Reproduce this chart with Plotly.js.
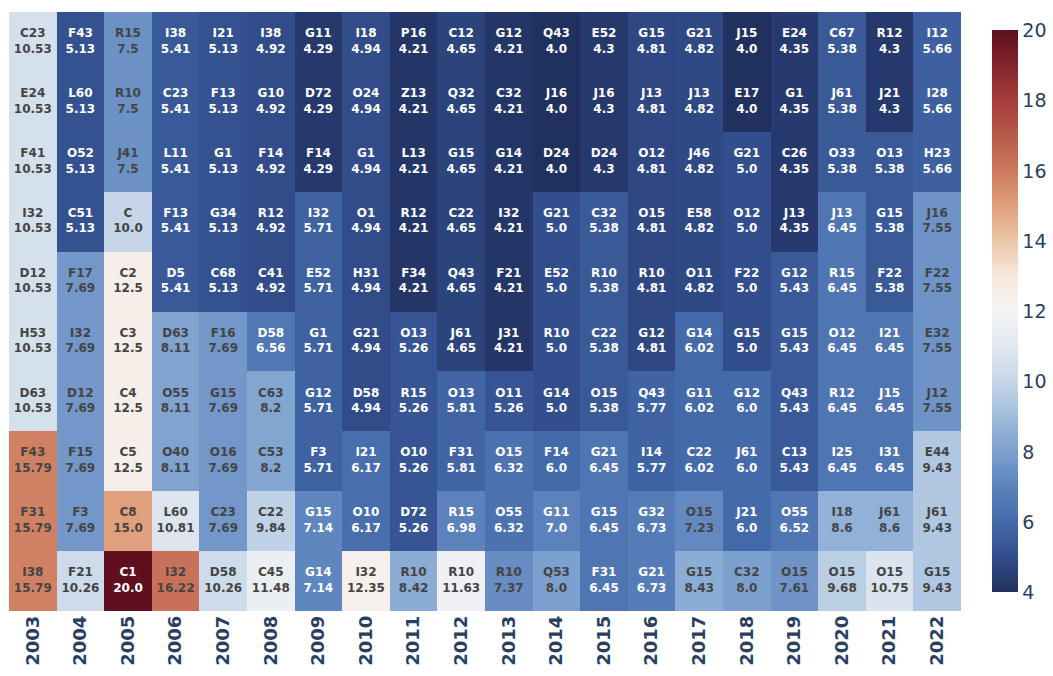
<!DOCTYPE html>
<html>
<head>
<meta charset="utf-8">
<script src="https://cdn.plot.ly/plotly-3.0.1.min.js"></script>
<style>html,body{margin:0;padding:0;background:#fff;}#chart{width:1053px;height:676px;}</style>
</head>
<body>
<div id="chart"></div>
<script>
// Years (columns)
const years = ["2003","2004","2005","2006","2007","2008","2009","2010","2011","2012",
               "2013","2014","2015","2016","2017","2018","2019","2020","2021","2022"];

// Codes per year, top row to bottom row
const codes = [
  ["C23","E24","F41","I32","D12","H53","D63","F43","F31","I38"],
  ["F43","L60","O52","C51","F17","I32","D12","F15","F3","F21"],
  ["R15","R10","J41","C","C2","C3","C4","C5","C8","C1"],
  ["I38","C23","L11","F13","D5","D63","O55","O40","L60","I32"],
  ["I21","F13","G1","G34","C68","F16","G15","O16","C23","D58"],
  ["I38","G10","F14","R12","C41","D58","C63","C53","C22","C45"],
  ["G11","D72","F14","I32","E52","G1","G12","F3","G15","G14"],
  ["I18","O24","G1","O1","H31","G21","D58","I21","O10","I32"],
  ["P16","Z13","L13","R12","F34","O13","R15","O10","D72","R10"],
  ["C12","Q32","G15","C22","Q43","J61","O13","F31","R15","R10"],
  ["G12","C32","G14","I32","F21","J31","O11","O15","O55","R10"],
  ["Q43","J16","D24","G21","E52","R10","G14","F14","G11","Q53"],
  ["E52","J16","D24","C32","R10","C22","O15","G21","G15","F31"],
  ["G15","J13","O12","O15","R10","G12","Q43","I14","G32","G21"],
  ["G21","J13","J46","E58","O11","G14","G11","C22","O15","G15"],
  ["J15","E17","G21","O12","F22","G15","G12","J61","J21","C32"],
  ["E24","G1","C26","J13","G12","G15","Q43","C13","O55","O15"],
  ["C67","J61","O33","J13","R15","O12","R12","I25","I18","O15"],
  ["R12","J21","O13","G15","F22","I21","J15","I31","J61","O15"],
  ["I12","I28","H23","J16","F22","E32","J12","E44","J61","G15"]
];

// Values per year, top row to bottom row (as printed)
const labels = [
  ["10.53","10.53","10.53","10.53","10.53","10.53","10.53","15.79","15.79","15.79"],
  ["5.13","5.13","5.13","5.13","7.69","7.69","7.69","7.69","7.69","10.26"],
  ["7.5","7.5","7.5","10.0","12.5","12.5","12.5","12.5","15.0","20.0"],
  ["5.41","5.41","5.41","5.41","5.41","8.11","8.11","8.11","10.81","16.22"],
  ["5.13","5.13","5.13","5.13","5.13","7.69","7.69","7.69","7.69","10.26"],
  ["4.92","4.92","4.92","4.92","4.92","6.56","8.2","8.2","9.84","11.48"],
  ["4.29","4.29","4.29","5.71","5.71","5.71","5.71","5.71","7.14","7.14"],
  ["4.94","4.94","4.94","4.94","4.94","4.94","4.94","6.17","6.17","12.35"],
  ["4.21","4.21","4.21","4.21","4.21","5.26","5.26","5.26","5.26","8.42"],
  ["4.65","4.65","4.65","4.65","4.65","4.65","5.81","5.81","6.98","11.63"],
  ["4.21","4.21","4.21","4.21","4.21","4.21","5.26","6.32","6.32","7.37"],
  ["4.0","4.0","4.0","5.0","5.0","5.0","5.0","6.0","7.0","8.0"],
  ["4.3","4.3","4.3","5.38","5.38","5.38","5.38","6.45","6.45","6.45"],
  ["4.81","4.81","4.81","4.81","4.81","4.81","5.77","5.77","6.73","6.73"],
  ["4.82","4.82","4.82","4.82","4.82","6.02","6.02","6.02","7.23","8.43"],
  ["4.0","4.0","5.0","5.0","5.0","5.0","6.0","6.0","6.0","8.0"],
  ["4.35","4.35","4.35","4.35","5.43","5.43","5.43","5.43","6.52","7.61"],
  ["5.38","5.38","5.38","6.45","6.45","6.45","6.45","6.45","8.6","9.68"],
  ["4.3","4.3","5.38","5.38","5.38","6.45","6.45","6.45","8.6","10.75"],
  ["5.66","5.66","5.66","7.55","7.55","7.55","7.55","9.43","9.43","9.43"]
];

const nRows = labels[0].length;
const rows = Array.from({length: nRows}, (_, i) => i);

// Heatmap matrix (rows x years)
const z = rows.map(r => years.map((_, c) => parseFloat(labels[c][r])));

// Text overlay points
const tx = [], ty = [], tt = [], tc = [];
years.forEach((yr, c) => {
  rows.forEach(r => {
    const v = parseFloat(labels[c][r]);
    tx.push(yr); ty.push(r);
    tt.push(codes[c][r] + "<br>" + labels[c][r]);
    tc.push(v >= 7.2 && v < 18 ? "#444444" : "#ffffff");
  });
});

const zmin = 4, zmax = 20;
const stopVals = [4,5,6,7,8,9,10,11,12,13,14,15,16,18,20];
const stopCols = ["rgb(32,48,95)","rgb(50,78,140)","rgb(68,106,170)","rgb(92,130,188)",
  "rgb(124,160,206)","rgb(160,188,220)","rgb(198,214,232)","rgb(225,232,240)",
  "rgb(245,245,245)","rgb(247,232,220)","rgb(237,198,168)","rgb(224,160,126)",
  "rgb(204,120,92)","rgb(165,60,58)","rgb(95,15,30)"];
const colorscale = stopVals.map((v, i) => [(v - zmin) / (zmax - zmin), stopCols[i]]);

const heat = {
  type: "heatmap",
  x: years,
  y: rows,
  z: z,
  hoverinfo: "skip",
  colorscale: colorscale,
  zmin: zmin, zmax: zmax,
  xgap: 0, ygap: 0,
  colorbar: {
    thickness: 26,
    len: 562, lenmode: "pixels",
    y: 0.5, yanchor: "middle", ypad: 0,
    x: 1.0, xanchor: "left", xpad: 31,
    outlinewidth: 0,
    tick0: 4, dtick: 2,
    ticks: "",
    tickfont: {family: "DejaVu Sans", size: 19, color: "#2a3f5f"}
  }
};

const textTrace = {
  type: "scatter",
  mode: "text",
  x: tx, y: ty,
  text: tt,
  textposition: "middle center",
  textfont: {family: "DejaVu Sans", size: 12, weight: "bold", color: tc},
  hoverinfo: "skip",
  showlegend: false
};

const layout = {
  width: 1053, height: 676,
  margin: {l: 9, r: 92, t: 12, b: 65, autoexpand: false},
  paper_bgcolor: "#fff",
  plot_bgcolor: "#fff",
  xaxis: {
    type: "category",
    range: [-0.5, years.length - 0.5],
    tickangle: -90,
    tickfont: {family: "DejaVu Sans", size: 18, color: "#2a3f5f", weight: "bold"},
    ticks: "", showgrid: false, zeroline: false, showline: false
  },
  yaxis: {
    range: [nRows - 0.5, -0.5],
    showticklabels: false,
    ticks: "", showgrid: false, zeroline: false, showline: false
  },
  showlegend: false
};

Plotly.newPlot("chart", [heat, textTrace], layout, {displayModeBar: false, staticPlot: true});
</script>
</body>
</html>
